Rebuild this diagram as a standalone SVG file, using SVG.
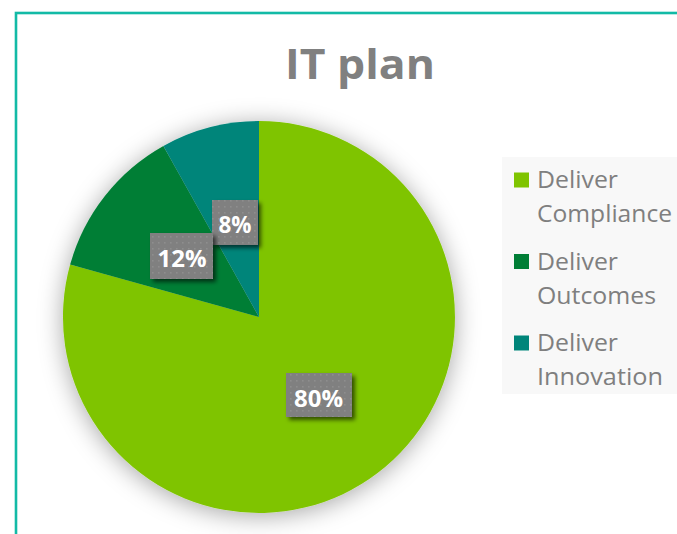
<svg xmlns="http://www.w3.org/2000/svg" width="677" height="534" viewBox="0 0 677 534">
<defs>
<style>
.title{font-family:"Open Sans","Liberation Sans",sans-serif;font-weight:700;font-size:42px;fill:#808080}
.lbl{font-family:"Open Sans","Liberation Sans",sans-serif;font-weight:700;font-size:24px;fill:#ffffff}
.leg{font-family:"Open Sans","Liberation Sans",sans-serif;font-size:23px;fill:#7f7f7f}
.box{fill:url(#dots);filter:url(#boxShadow)}
</style>
<pattern id="dots" width="6" height="6" patternUnits="userSpaceOnUse">
<rect width="6" height="6" fill="#808080"/>
<rect x="2" y="2" width="1.6" height="1.6" fill="#8e8e8e"/>
</pattern>
<filter id="pieShadow" x="-20%" y="-20%" width="140%" height="140%">
<feDropShadow dx="0" dy="3" stdDeviation="12" flood-color="#000" flood-opacity="0.35"/>
</filter>
<filter id="boxShadow" x="-20%" y="-20%" width="150%" height="160%">
<feDropShadow dx="3" dy="3" stdDeviation="2" flood-color="#000" flood-opacity="0.6"/>
</filter>
</defs>
<rect width="677" height="534" fill="#ffffff"/>
<rect x="16" y="13" width="700" height="600" fill="none" stroke="#12BAA6" stroke-width="2.6"/>
<text class="title" x="360" y="79" text-anchor="middle" textLength="150" lengthAdjust="spacingAndGlyphs">IT plan</text>
<g id="pie" filter="url(#pieShadow)">
<path id="slice-compliance" d="M259,317 L259,121 A196,196 0 1 1 70.1,264.6 Z" fill="#7FC400"/>
<path id="slice-outcomes" d="M259,317 L70.1,264.6 A196,196 0 0 1 163.4,145.9 Z" fill="#007E36"/>
<path id="slice-innovation" d="M259,317 L163.4,145.9 A196,196 0 0 1 259,121 Z" fill="#00857A"/>
</g>
<g id="labels">
<g id="label-8">
<rect class="box" x="212" y="200" width="46" height="45"/>
<text class="lbl" x="235" y="233" text-anchor="middle" textLength="33" lengthAdjust="spacingAndGlyphs">8%</text>
</g>
<g id="label-12">
<rect class="box" x="150" y="233" width="63" height="46"/>
<text class="lbl" x="182" y="267" text-anchor="middle" textLength="49" lengthAdjust="spacingAndGlyphs">12%</text>
</g>
<g id="label-80">
<rect class="box" x="286" y="373" width="66" height="44"/>
<text class="lbl" x="318.5" y="407" text-anchor="middle" textLength="49" lengthAdjust="spacingAndGlyphs">80%</text>
</g>
</g>
<g id="legend">
<rect x="502" y="157" width="180" height="237" fill="#F8F8F8"/>
<g id="legend-compliance">
<rect x="514" y="172.5" width="15" height="15" fill="#7FC400"/>
<text class="leg" x="537" y="188" textLength="81" lengthAdjust="spacingAndGlyphs">Deliver</text>
<text class="leg" x="537" y="222" textLength="135" lengthAdjust="spacingAndGlyphs">Compliance</text>
</g>
<g id="legend-outcomes">
<rect x="514" y="254" width="15" height="15" fill="#007E36"/>
<text class="leg" x="537" y="269.5" textLength="81" lengthAdjust="spacingAndGlyphs">Deliver</text>
<text class="leg" x="537" y="303.5" textLength="119" lengthAdjust="spacingAndGlyphs">Outcomes</text>
</g>
<g id="legend-innovation">
<rect x="514" y="335.5" width="15" height="15" fill="#00857A"/>
<text class="leg" x="537" y="351" textLength="81" lengthAdjust="spacingAndGlyphs">Deliver</text>
<text class="leg" x="537" y="385" textLength="126" lengthAdjust="spacingAndGlyphs">Innovation</text>
</g>
</g>
</svg>
